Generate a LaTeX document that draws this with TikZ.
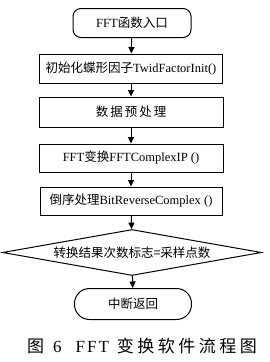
\documentclass[tikz,border=0pt]{standalone}
\usepackage{fontspec}
\setmainfont{Liberation Serif}
\newfontfamily\cjk{Noto Sans CJK SC}
\usetikzlibrary{shapes.geometric,arrows.meta}
\tikzset{
  procbox/.style={draw, line width=1pt, rectangle, minimum height=29pt, inner sep=0pt, font=\fontsize{12.5}{14}\selectfont},
  termbox/.style={procbox, minimum width=118pt},
  decbox/.style={draw, line width=1pt, diamond, aspect=5.76, minimum width=259pt, minimum height=46pt, inner sep=0pt, font=\fontsize{12.5}{14}\selectfont},
  flow/.style={line width=1pt, -{Triangle[length=6.5pt,width=6pt]}}
}
\begin{document}
\begin{tikzpicture}[x=1pt,y=1pt]
\useasboundingbox (0,0) rectangle (269,-362);
\node[termbox, rounded corners=8pt] (n1) at (132,-23) {FFT{\cjk 函数入口}};
\node[procbox, minimum width=183pt] (n2) at (131,-68.5) {{\cjk 初始化蝶形因子}TwidFactorInit()};
\node[procbox, minimum width=184pt, minimum height=30pt] (n3) at (131,-112) {{\cjk 数\hspace{2pt}据\hspace{2pt}预\hspace{2pt}处\hspace{2pt}理}};
\node[procbox, minimum width=184pt, minimum height=28pt] (n4) at (131,-158) {FFT{\cjk 变换}FFTComplexIP ()};
\node[procbox, minimum width=182pt, minimum height=28pt] (n5) at (131,-201) {{\cjk 倒序处理}BitReverseComplex ()};
\node[decbox] (n6) at (132,-252.5) {{\cjk 转换结果次数标志=采样点数}};
\node[termbox, rounded corners=15pt, minimum width=117pt, minimum height=31pt] (n7) at (133,-304) {{\cjk 中断返回}};
\draw[flow] (n1) -- (n2);
\draw[flow] (n2) -- (n3);
\draw[flow] (n3) -- (n4);
\draw[flow] (n4) -- (n5);
\draw[flow] (n5) -- (n6);
\draw[flow] (n6) -- (n7);
\node[anchor=west, inner sep=0pt, font=\fontsize{17}{20}\selectfont] (cap) at (27,-346)
  {{\cjk 图}\hspace{9pt}6\hspace{14pt}F\hspace{2pt}F\hspace{2pt}T\hspace{8pt}{\cjk 变\hspace{3.5pt}换\hspace{3.5pt}软\hspace{3.5pt}件\hspace{3.5pt}流\hspace{3.5pt}程\hspace{3.5pt}图}};
\end{tikzpicture}
\end{document}
